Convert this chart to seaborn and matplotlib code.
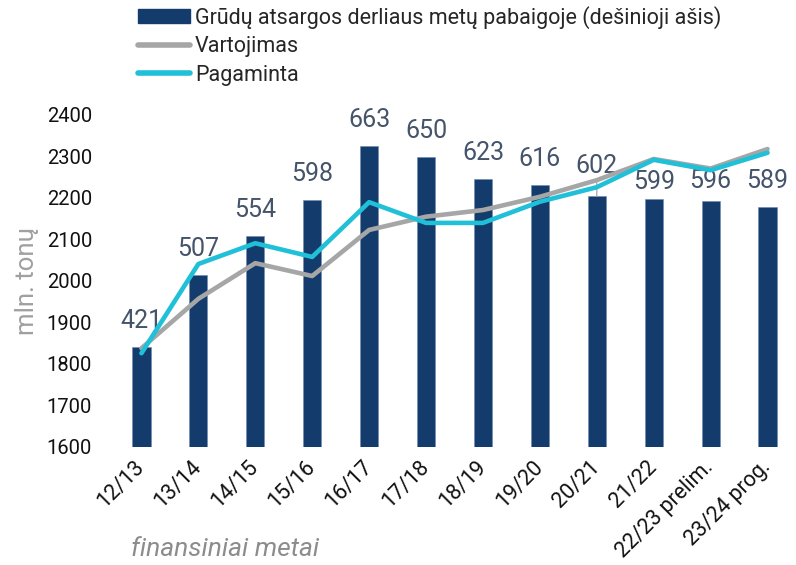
import numpy as np
import pandas as pd
import matplotlib
matplotlib.use("Agg")
import matplotlib.pyplot as plt
from matplotlib.patches import Patch
from matplotlib.lines import Line2D
import seaborn as sns

# ---- data ----
categories = ["12/13", "13/14", "14/15", "15/16", "16/17", "17/18", "18/19",
              "19/20", "20/21", "21/22", "22/23 prelim.", "23/24 prog."]
stocks = [421, 507, 554, 598, 663, 650, 623, 616, 602, 599, 596, 589]          # right axis
consumption = [1838, 1957, 2043, 2012, 2123, 2155, 2171, 2203, 2243, 2294, 2271, 2318]
production = [1826, 2041, 2091, 2058, 2190, 2140, 2140, 2191, 2226, 2292, 2267, 2309]
yticks = [1600, 1700, 1800, 1900, 2000, 2100, 2200, 2300, 2400]

label_stocks = "Grūdų atsargos derliaus metų pabaigoje (dešinioji ašis)"
label_cons = "Vartojimas"
label_prod = "Pagaminta"

NAVY = "#133B6B"
GRAY = "#A6A6A6"
CYAN = "#1FC0D8"
LBL = "#44546A"

sns.set_theme(style="white")
plt.rcParams["font.family"] = ["Roboto", "DejaVu Sans"]

fig = plt.figure(figsize=(7.96, 5.65), dpi=100)
ax = fig.add_axes([113 / 796, 1 - 447 / 565, 1 - 113 / 796, (447 - 115) / 565])
ax2 = ax.twinx()

df = pd.DataFrame({"cat": categories, "stocks": stocks,
                   "cons": consumption, "prod": production,
                   "pos": np.arange(len(categories))})

sns.barplot(data=df, x="cat", y="stocks", ax=ax2, color=NAVY, saturation=1,
            width=0.32, edgecolor="#6F8BB0", linewidth=0.4)
ax2.set_ylim(300, 700)
ax2.yaxis.set_visible(False)

sns.lineplot(data=df, x="pos", y="cons", ax=ax, color=GRAY, linewidth=3.3)
sns.lineplot(data=df, x="pos", y="prod", ax=ax, color=CYAN, linewidth=3.3)

ax.set_zorder(ax2.get_zorder() + 1)
ax.patch.set_visible(False)

ax.set_xlim(-0.5, len(categories) - 0.5)
ax.set_ylim(1600, 2400)
ax.set_yticks(yticks)
ax.set_yticklabels([str(t) for t in yticks], fontsize=14.5, color="#111111")
ax.set_xticks(np.arange(len(categories)))
ax.set_xticklabels(categories, fontsize=15.5, color="#111111", rotation=45,
                   ha="right", va="center", rotation_mode="anchor")
ax.tick_params(axis="both", length=0)
ax.tick_params(axis="y", pad=15)
ax.tick_params(axis="x", pad=12)

for a in (ax, ax2):
    for s in a.spines.values():
        s.set_visible(False)

ax.set_ylabel("mln. tonų", fontsize=18.5, color="#A0A0A0")
ax.yaxis.set_label_coords(-0.108, 0.5)
ax.set_xlabel("finansiniai metai", fontsize=19, color="#8C8C8C", style="italic",
              ha="left", va="center")
ax.xaxis.set_label_coords((131 - 113) / 683, (447 - 549) / 332)

# data labels on bars (offset in px above bar top)
offsets = {8: 30, 9: 17, 10: 20}
for i, v in enumerate(stocks):
    off = offsets.get(i, 26) * 72 / 100
    kw = {}
    if i == 8:
        kw["arrowprops"] = dict(arrowstyle="-", color=GRAY, lw=0.9,
                                shrinkA=0, shrinkB=0)
    ax2.annotate(str(v), xy=(i, v), xytext=(0, off), textcoords="offset points",
                 ha="center", va="center", fontsize=18, color=LBL, **kw)

handles = [Patch(facecolor=NAVY, edgecolor=NAVY),
           Line2D([], [], color=GRAY, lw=4, solid_capstyle="round"),
           Line2D([], [], color=CYAN, lw=4, solid_capstyle="round")]
fig.legend(handles, [label_stocks, label_cons, label_prod],
           loc="upper left", bbox_to_anchor=(138 / 796, 1 - 6 / 565),
           frameon=False, fontsize=15.5, handlelength=2.4, handleheight=0.6,
           handletextpad=0.25, labelspacing=0.34, borderpad=0, borderaxespad=0)

fig.savefig("out.png", dpi=100)
